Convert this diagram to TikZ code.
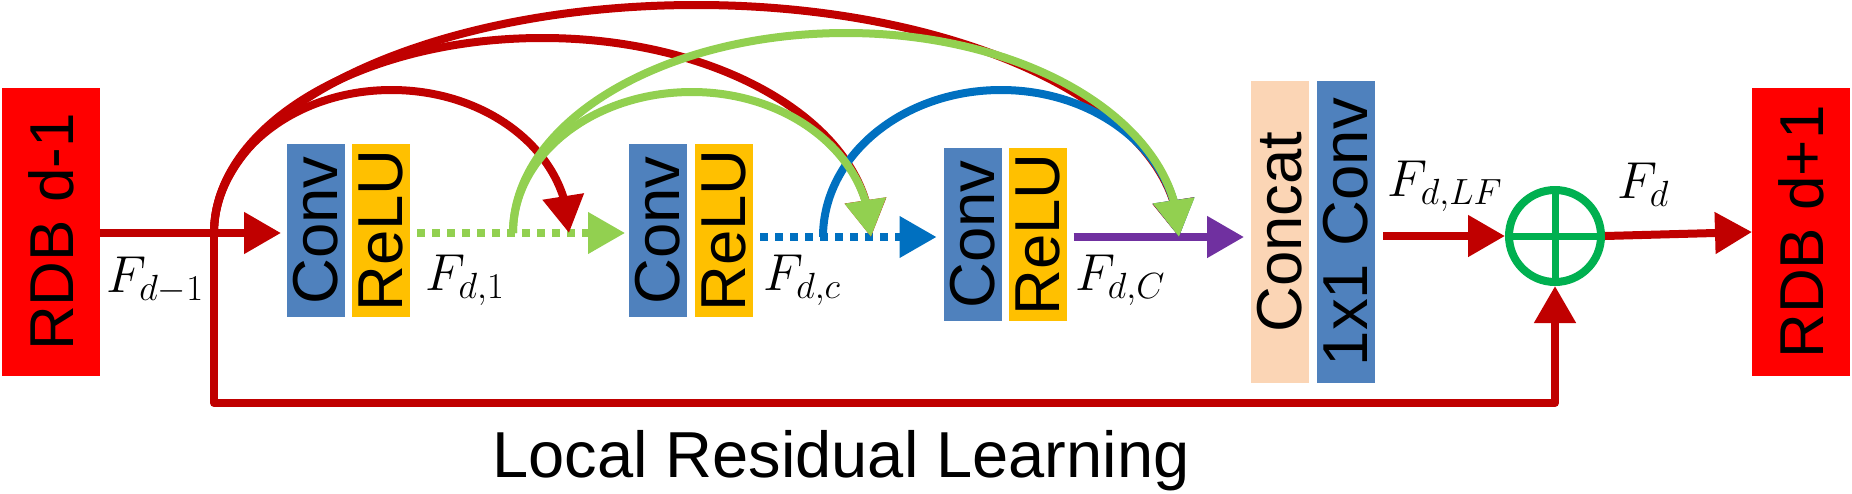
\documentclass[tikz,border=0pt]{standalone}
\usepackage{fix-cm}
\usepackage{fontspec}
\newfontfamily\arial{Liberation Sans}
\usetikzlibrary{arrows.meta,bending,calc}
\definecolor{dred}{HTML}{C00000}
\definecolor{lgreen}{HTML}{92D050}
\definecolor{dblue}{HTML}{0070C0}
\definecolor{dpurple}{HTML}{7030A0}
\definecolor{convblue}{HTML}{4F81BD}
\definecolor{reluyellow}{HTML}{FFC000}
\definecolor{concatpeach}{HTML}{FBD5B5}
\definecolor{ringgreen}{HTML}{00B050}
\definecolor{rdbred}{HTML}{FF0000}
\begin{document}
\begin{tikzpicture}[x=1pt,y=-1pt,line join=round,
  blk/.style={inner sep=0pt,outer sep=0pt,text=black,font=\arial\fontsize{63.5}{64}\selectfont},
  rdbbox/.style={blk,fill=rdbred,minimum width=98pt,minimum height=288pt,font=\arial\fontsize{62}{62}\selectfont},
  convbox/.style={blk,fill=convblue,minimum width=58pt,minimum height=173pt},
  relubox/.style={blk,fill=reluyellow,minimum width=58pt,minimum height=173pt},
  tallbox/.style={blk,minimum width=58pt,minimum height=302pt},
  lab/.style={inner sep=0pt,font=\fontsize{52}{60}\selectfont},
  tipA/.style={-{Triangle[length=37pt,width=40pt]}},
  tipF/.style={-{Triangle[length=37pt,width=40pt,flex]}},
  mainred/.style={draw=dred,line width=8pt,tipA,fill=none,color=dred},
  dotline/.style={line width=7.5pt,dash pattern=on 8pt off 7pt,tipA},
  arcred/.style={dred,line width=8pt,tipF},
  arcgreen/.style={lgreen,line width=8pt,tipF},
  arcblue/.style={dblue,line width=8pt,tipF}]
\path[use as bounding box] (0,0) rectangle (1852,493);

% blocks
\node[rdbbox] (rdb1) at (51,232) {\rotatebox{90}{RDB d-1}};
\node[convbox] (conv1) at (316,230.5) {\rotatebox{90}{Conv}};
\node[relubox] (relu1) at (381,230.5) {\rotatebox{90}{ReLU}};
\node[convbox] (conv2) at (658,230.5) {\rotatebox{90}{Conv}};
\node[relubox] (relu2) at (724,230.5) {\rotatebox{90}{ReLU}};
\node[convbox] (conv3) at (972.5,234.5) {\rotatebox{90}{Conv}};
\node[relubox] (relu3) at (1037.5,234.5) {\rotatebox{90}{ReLU}};
\node[tallbox,fill=concatpeach] (concat) at (1280,232) {\rotatebox{90}{Concat}};
\node[tallbox,fill=convblue] (conv11) at (1346,232) {\rotatebox{90}{1x1 Conv}};
\node[circle,draw=ringgreen,line width=8pt,minimum size=92pt,inner sep=0pt] (sum) at (1555,236) {};
\node[rdbbox] (rdb2) at (1801,232) {\rotatebox{90}{RDB d+1}};
\draw[ringgreen,line width=7pt] (sum.west) -- (sum.east) (sum.north) -- (sum.south);

% points on the lines
\coordinate (br) at (214,233);
\coordinate (f1) at (513,233);
\coordinate (fc) at (823,237);
\coordinate (in2) at (569,233);
\coordinate (in3) at (871,237);
\coordinate (in4) at (1179,237);

% straight connectors
\draw[mainred,shorten >=6pt] (rdb1.east |- br) -- (br) -- (conv1.west |- br);
\draw[lgreen,dotline,shorten <=7pt,shorten >=4pt] (relu1.east |- f1) -- (conv2.west |- f1);
\draw[dblue,dotline,shorten <=7pt,shorten >=7pt] (relu2.east |- fc) -- (conv3.west |- fc);
\draw[dpurple,line width=8pt,tipA,shorten <=7pt,shorten >=7pt] (relu3.east |- in4) -- (concat.west |- in4);
\draw[mainred,shorten <=8pt] (conv11.east |- sum.west) -- (sum.west);
\draw[mainred] (sum.east) -- (rdb2.west);
\draw[mainred] (br) -- (214,403) -| (sum.south);

% dense connections
\draw[arcred] (br) .. controls (214,154) and (293.5,90) .. (391.5,90)
  .. controls (489.5,90) and (569,154) .. (in2);
\draw[arcred] (br) .. controls (214,125.3) and (361.1,38) .. (542.5,38)
  .. controls (723.9,38) and (871,127.1) .. (in3);
\draw[arcred] (br) .. controls (214,107.1) and (430,5) .. (696.5,5)
  .. controls (963,5) and (1179,108.9) .. (in4);
\draw[arcblue] (fc) .. controls (823,155.8) and (902.7,90) .. (1001,90)
  .. controls (1099.3,90) and (1179,155.8) .. (in4);
\draw[arcgreen] (f1) .. controls (513,155.1) and (593.1,92) .. (692,92)
  .. controls (790.9,92) and (871,156.9) .. (in3);
\draw[arcgreen] (f1) .. controls (513,122.5) and (662.1,33) .. (846,33)
  .. controls (1029.9,33) and (1179,124.3) .. (in4);

% labels
\node[lab] (lab1) at (155,280) {$F_{d-1}$};
\node[lab] (lab2) at (465,280) {$F_{d,1}$};
\node[lab] (lab3) at (802,280) {$F_{d,c}$};
\node[lab] (lab4) at (1120,280) {$F_{d,C}$};
\node[lab] (lab5) at (1445,186) {$F_{d,LF}$};
\node[lab] (lab6) at (1643,185) {$F_{d}$};
\node[inner sep=0pt,anchor=base,font=\arial\fontsize{65}{66}\selectfont] (lrl) at (841,477) {Local Residual Learning};
\end{tikzpicture}
\end{document}
